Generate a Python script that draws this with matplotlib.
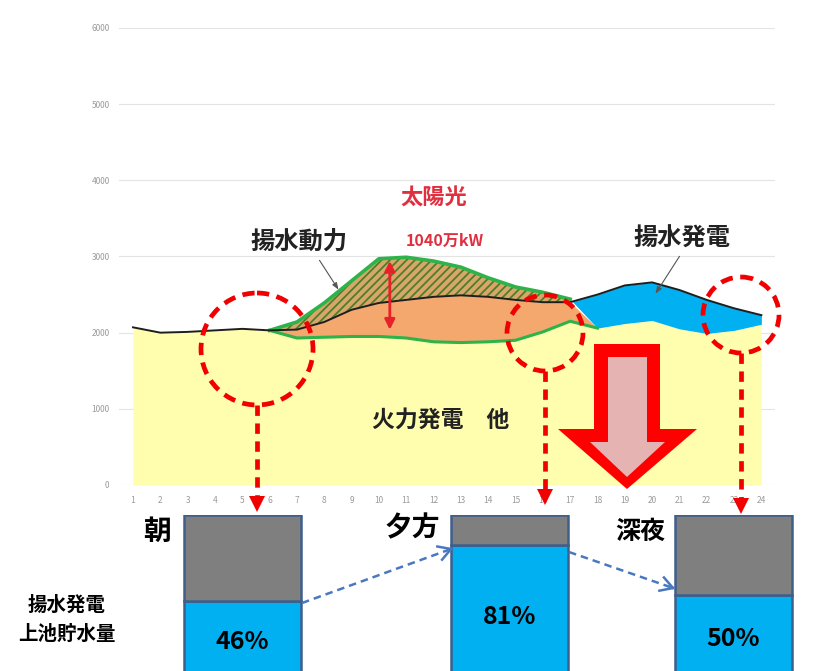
"""Pumped hydro / solar daily profile chart with storage bars."""

import matplotlib

matplotlib.use('Agg')
import matplotlib.pyplot as plt
import numpy as np
from matplotlib.patches import Circle, Polygon

plt.rcParams['font.family'] = ['Noto Sans CJK JP', 'DejaVu Sans']
plt.rcParams['hatch.color'] = '#4E7D2A'
plt.rcParams['hatch.linewidth'] = 1.3

# hourly values (万kW)
hours = np.arange(1, 25)
thermal = np.array([2070, 2000, 2010, 2030, 2050, 2030, 1930, 1940, 1950, 1950, 1930, 1880,
                    1870, 1880, 1900, 2010, 2150, 2060, 2120, 2160, 2050, 1990, 2030, 2110])
solar = np.array([0, 0, 0, 0, 0, 0, 210, 450, 730, 1020, 1060, 1060,
                  990, 840, 700, 520, 290, 0, 0, 0, 0, 0, 0, 0])
demand = np.array([2070, 2000, 2010, 2030, 2050, 2030, 2040, 2140, 2300, 2390, 2430, 2470,
                   2490, 2470, 2430, 2400, 2400, 2500, 2620, 2660, 2560, 2430, 2320, 2230])
y_ticks = [0, 1000, 2000, 3000, 4000, 5000, 6000]

# upper reservoir storage (%)
periods = ['朝', '夕方', '深夜']
storage = [46, 81, 50]

supply = thermal + solar

fig = plt.figure(figsize=(8.23, 6.71), dpi=100)

# ---- main area chart
ax = fig.add_axes([0.145, 0.2772, 0.7967, 0.6811])
ax.fill_between(hours, 0, thermal, color='#FFFDAE', lw=0, zorder=1)
ax.fill_between(hours, thermal, np.minimum(supply, demand), where=solar > 0,
                interpolate=True, color='#F5A86E', lw=0, zorder=2)
ax.fill_between(hours, demand, supply, where=supply > demand, interpolate=True,
                facecolor='#D9A66A', edgecolor='#4E7D2A', hatch='////', lw=0, zorder=2)
ax.fill_between(hours, supply, demand, where=(demand > supply) & (hours >= 16),
                interpolate=True, color='#00B0F0', lw=0, zorder=2)
sol = slice(5, 17)
ax.plot(hours[sol], supply[sol], color='#2DB34A', lw=2.6, zorder=3)
ax.plot(hours[5:18], thermal[5:18], color='#2DB34A', lw=2.2, zorder=3)
ax.plot(hours, demand, color='#1E1E1E', lw=1.4, zorder=4)

# solar height arrow at 10.4h
xa = 10.4
ax.annotate('', xy=(xa, np.interp(xa, hours, supply)), xytext=(xa, np.interp(xa, hours, thermal) + 60),
            arrowprops=dict(arrowstyle='<|-|>,head_length=0.6,head_width=0.3', color='#E8202A', lw=2),
            zorder=5)

ax.set_xlim(0.5, 24.5)
ax.set_ylim(0, 6000)
ax.set_xticks(hours)
ax.set_yticks(y_ticks)
ax.tick_params(length=0, labelsize=6, labelcolor='#9A9A9A')
ax.tick_params(axis='x', pad=8)
ax.tick_params(axis='y', pad=7)
ax.grid(axis='y', color='#E4E4E4', lw=0.8)
ax.set_axisbelow(True)
for s in ax.spines.values():
    s.set_visible(False)

# ---- storage bars
bx = fig.add_axes([0, -0.006, 1, 0.2385])
bar_x = [242.5, 510, 733.5]
bx.bar(bar_x, storage, width=117, color='#00B0F0', edgecolor='#3E5F8A', lw=1.8, zorder=2)
bx.bar(bar_x, [100 - s for s in storage], bottom=storage, width=117, color='#7F7F7F',
       edgecolor='#3E5F8A', lw=1.8, zorder=2)
bx.set_xlim(0, 823)
bx.set_ylim(0, 100)
bx.axis('off')
for x, s in zip(bar_x, storage):
    bx.text(x, s * 0.45, f'{s}%', ha='center', va='center', fontsize=18, fontweight='bold')

# ---- overlay annotations (pixel coordinates)
ov = fig.add_axes([0, 0, 1, 1], zorder=10)
ov.set_xlim(0, 823)
ov.set_ylim(671, 0)
ov.axis('off')
ov.patch.set_alpha(0)

red = '#F00000'
dash = (0, (2.6, 1.6))
for (cx, cy, r), y_end in zip([(257, 349, 56), (545, 333, 38), (741, 315, 38)], [512, 505, 514]):
    ov.add_patch(Circle((cx, cy), r, fill=False, ec=red, lw=3.4, ls=dash))
    ov.plot([cx, cx], [cy + r, y_end - 14], color=red, lw=3.4, ls=(0, (2.2, 1.6)))
    ov.add_patch(Polygon([(cx - 8, y_end - 16), (cx + 8, y_end - 16), (cx, y_end)],
                         closed=True, color=red, lw=0))

# big hollow arrow
ov.add_patch(Polygon([(594, 344), (660, 344), (660, 429), (697, 429), (627, 489),
                      (558, 429), (594, 429)], closed=True, color='#FF0000', lw=0))
ov.add_patch(Polygon([(608, 357), (647, 357), (647, 442), (665, 442), (627, 477),
                      (590, 442), (608, 442)], closed=True, color='#E6B3B3', lw=0))

# text labels
ov.text(434, 198, '太陽光', color='#E03040', fontsize=16, fontweight='bold', ha='center', va='center')
ov.text(445, 241, '1040万kW', color='#E03040', fontsize=11.5, fontweight='bold', ha='center', va='center')
ov.text(299, 242, '揚水動力', color='#222222', fontsize=17.5, fontweight='bold', ha='center', va='center')
ov.text(682, 239, '揚水発電', color='#222222', fontsize=17.5, fontweight='bold', ha='center', va='center')
ov.text(441, 420, '火力発電\u3000他', color='#222222', fontsize=16.5, fontweight='bold',
        ha='center', va='center')
ov.annotate('', xy=(340, 292), xytext=(318, 258),
            arrowprops=dict(arrowstyle='-|>,head_length=0.4,head_width=0.15', color='#555555', lw=0.8))
ov.annotate('', xy=(654, 296), xytext=(681, 254),
            arrowprops=dict(arrowstyle='-|>,head_length=0.4,head_width=0.15', color='#555555', lw=0.8))

ov.text(157, 532, periods[0], fontsize=20, fontweight='bold', ha='center', va='center')
ov.text(412, 528, periods[1], fontsize=20, fontweight='bold', ha='center', va='center')
ov.text(640, 532, periods[2], fontsize=18, fontweight='bold', ha='center', va='center')
ov.text(67, 605, '揚水発電', fontsize=14, fontweight='bold', ha='center', va='center')
ov.text(67, 634, '上池貯水量', fontsize=14, fontweight='bold', ha='center', va='center')

# dashed blue transition arrows
blue_ln = '#4A78C0'
for (x0, y0), (x1, y1) in [((302, 603), (451, 549)), ((569, 552), (673, 588))]:
    ov.plot([x0, x1], [y0, y1], color=blue_ln, lw=1.8, ls=(0, (3, 2)))
    d = np.array([x1 - x0, y1 - y0], float)
    d /= np.hypot(*d)
    n = np.array([-d[1], d[0]])
    tip = np.array([x1, y1])
    for sgn in (1, -1):
        p = tip - d * 12 + sgn * n * 7
        ov.plot([p[0], tip[0]], [p[1], tip[1]], color=blue_ln, lw=1.8)

plt.savefig('out.png', dpi=100)
plt.close()
